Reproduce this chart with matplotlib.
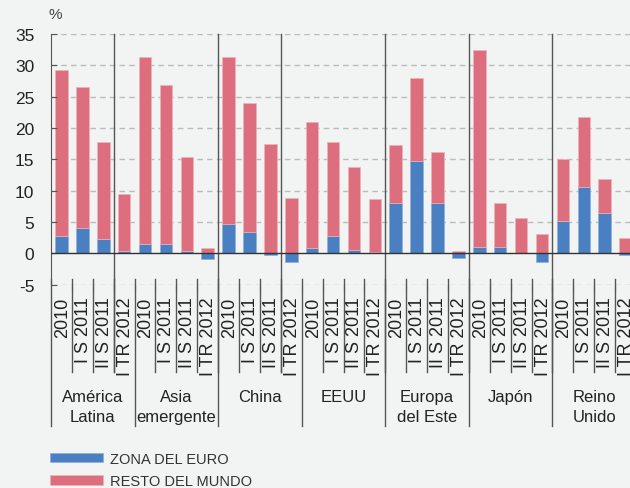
import numpy as np
import matplotlib.pyplot as plt

# datos (%)
grupos = ['América\nLatina', 'Asia\nemergente', 'China', 'EEUU', 'Europa\ndel Este', 'Japón', 'Reino\nUnido']
periodos = ['2010', 'I S 2011', 'II S 2011', 'I TR 2012']

zona_euro = [2.7, 4.0, 2.3, 0.4,
             1.5, 1.5, 0.4, -0.9,
             4.7, 3.4, -0.2, -1.4,
             0.9, 2.7, 0.6, 0.2,
             8.0, 14.7, 8.1, -0.8,
             1.0, 1.0, 0.1, -1.4,
             5.2, 10.5, 6.5, -0.3]
total = [29.3, 26.6, 17.8, 9.5,
         31.3, 26.9, 15.3, 0.8,
         31.3, 24.0, 17.5, 8.8,
         20.9, 17.8, 13.8, 8.6,
         17.3, 27.9, 16.1, 0.3,
         32.5, 8.1, 5.7, 3.0,
         15.0, 21.7, 11.9, 2.4]

azul = '#4a7fc2'
rosa = '#dc6e7e'
fondo = '#f2f4f4'
gris = '#555555'

plt.rcParams['font.family'] = ['Liberation Sans', 'DejaVu Sans']

ze = np.array(zona_euro)
tot = np.array(total)
pos = np.clip(ze, 0, None)
resto = tot - pos
n = len(ze)
x = np.arange(n) + 0.5

fig = plt.figure(figsize=(6.3, 4.89), dpi=100, facecolor=fondo)
ax = fig.add_axes([51/630, 1 - 285.6/489, 585/630, (285.6 - 35)/489])
ax.set_facecolor(fondo)

ax.bar(x, ze, width=0.6, color=azul, edgecolor='#8fb0dc', linewidth=0.5, label='ZONA DEL EURO')
ax.bar(x, resto, width=0.6, bottom=pos, color=rosa, edgecolor='#eeb3bb', linewidth=0.5, label='RESTO DEL MUNDO')

ax.set_xlim(0, n)
ax.set_ylim(-5, 35)
ax.set_yticks(np.arange(-5, 36, 5))
ax.set_yticklabels([str(v) for v in range(-5, 36, 5)], fontsize=12.5, color='#222222')
ax.tick_params(axis='y', direction='in', length=4, pad=12, color=gris)

for v in [-5, 5, 10, 15, 20, 25, 30, 35]:
    ax.axhline(v, color='#bbbbbb', linestyle=(0, (4, 3)), linewidth=1, zorder=0)
ax.axhline(0, color='#333333', linewidth=1, zorder=3)

ax.set_xticks(np.arange(1, n))
ax.set_xticklabels([])
ax.tick_params(axis='x', direction='out', length=5, color=gris)

for s in ['top', 'right', 'bottom']:
    ax.spines[s].set_visible(False)
ax.spines['left'].set_color(gris)

# líneas verticales dentro del gráfico
for xv in [3, 8, 11, 16, 20, 24]:
    ax.plot([xv, xv], [35, -19.0], color=gris, linewidth=1, clip_on=False)

# separadores de etiquetas
for xv in range(0, n + 1):
    if xv % 4 == 0:
        ax.plot([xv, xv], [-4.15, -27.6], color=gris, linewidth=1, clip_on=False)
    else:
        ax.plot([xv, xv], [-4.15, -19.0], color=gris, linewidth=1, clip_on=False)

# etiquetas de periodos
for i in range(n):
    ax.text(x[i] + 0.05, -6.9, periodos[i % 4], rotation=90, ha='center', va='top',
            fontsize=13, color='#222222')

# etiquetas de grupos (una línea por texto)
for g, nombre in enumerate(grupos):
    for k, linea in enumerate(nombre.split('\n')):
        ax.text(g * 4 + 2, -22.8 - 3.2 * k, linea, ha='center', va='center', fontsize=12,
                color='#222222')

fig.text(55/630, 1 - 15/489, '%', ha='center', va='center', fontsize=11, color='#444444')

ax.legend(loc='upper left', bbox_to_anchor=(50/630, 1 - 453/489), bbox_transform=fig.transFigure,
          frameon=False, handlelength=3.6, handleheight=0.6, labelspacing=0.55,
          handletextpad=0.5, prop={'family': ['Liberation Sans Narrow', 'Liberation Sans'], 'size': 10.5},
          labelcolor='#333333', borderaxespad=0, borderpad=0)

fig.savefig('out.png', dpi=100, facecolor=fondo)
